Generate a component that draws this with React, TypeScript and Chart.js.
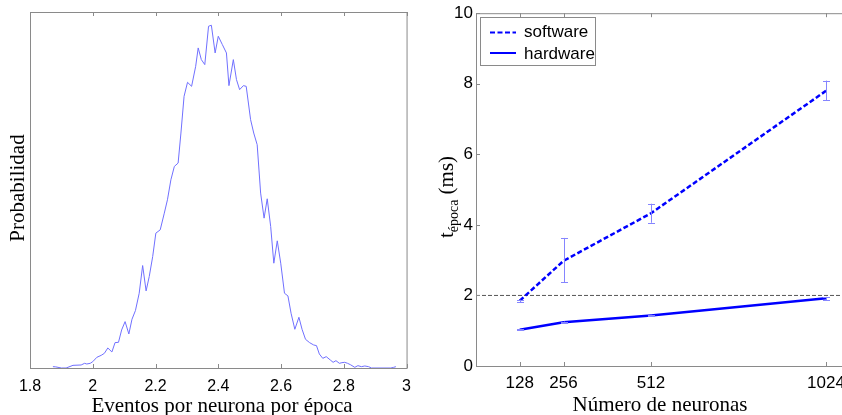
import React, { useEffect, useRef } from 'react';
import { Chart, registerables } from 'chart.js';

Chart.register(...registerables);

// ---------- Left panel: distribution of events per neuron per epoch ----------
const eventX = [
  1.873, 1.882, 1.900, 1.915, 1.937, 1.963, 1.974, 1.981, 1.992, 2.000,
  2.013, 2.027, 2.037, 2.048, 2.061, 2.071, 2.082, 2.092, 2.103, 2.115,
  2.125, 2.136, 2.148, 2.159, 2.170, 2.180, 2.191, 2.201, 2.215, 2.228,
  2.238, 2.249, 2.260, 2.272, 2.281, 2.291, 2.302, 2.315, 2.328, 2.336,
  2.346, 2.357, 2.369, 2.378, 2.390, 2.400, 2.413, 2.426, 2.434, 2.448,
  2.458, 2.468, 2.480, 2.489, 2.503, 2.513, 2.524, 2.535, 2.546, 2.556,
  2.567, 2.577, 2.588, 2.599, 2.611, 2.622, 2.632, 2.644, 2.657, 2.667,
  2.678, 2.691, 2.704, 2.713, 2.722, 2.733, 2.744, 2.757, 2.766, 2.775,
  2.786, 2.794, 2.803, 2.812, 2.821, 2.835, 2.845, 2.856, 2.867, 2.879,
  2.888, 2.950, 2.959, 2.966,
];
const eventProb = [
  0.00012, 0.0001, 0, 0, 0.00024, 0.00027, 0.00042, 0.00036, 0.00042, 0.00057,
  0.00096, 0.00114, 0.00132, 0.0018, 0.00144, 0.00228, 0.00231, 0.00342, 0.00417, 0.00306,
  0.00438, 0.00516, 0.00672, 0.00921, 0.00693, 0.00822, 0.01002, 0.01212, 0.01242, 0.01392,
  0.01512, 0.01692, 0.01812, 0.01842, 0.02112, 0.02442, 0.02568, 0.02532, 0.02712, 0.02877,
  0.02772, 0.02727, 0.03072, 0.03081, 0.02832, 0.02982, 0.02907, 0.02832, 0.02538, 0.02772,
  0.02592, 0.02502, 0.02538, 0.02532, 0.02232, 0.02112, 0.02007, 0.01572, 0.01347, 0.01521,
  0.01272, 0.00942, 0.01143, 0.00942, 0.00672, 0.00648, 0.00492, 0.00348, 0.00456, 0.00348,
  0.00258, 0.00228, 0.00207, 0.00201, 0.00126, 0.00087, 0.00102, 0.00072, 0.00051, 0.00066,
  0.00042, 0.00048, 0.00051, 0.00042, 0.0003, 0.00006, 0.00021, 0.00012, 0.00018, 0.00012,
  0, 0, 0.00006, 0.00012,
];
const leftXTicks = [1.8, 2, 2.2, 2.4, 2.6, 2.8, 3];

// ---------- Right panel: epoch time vs number of neurons ----------
const neurons = [128, 256, 512, 1024];
const softwareMs = [1.85, 2.98, 4.33, 7.8];
const softwareLow = [1.82, 2.38, 4.06, 7.53];
const softwareHigh = [1.88, 3.63, 4.6, 8.09];
const hardwareMs = [1.03, 1.24, 1.43, 1.92];
const hardwareLow = [1.02, 1.22, 1.41, 1.87];
const hardwareHigh = [1.04, 1.26, 1.45, 1.96];
const limitX = [0, 1100];
const limitMs = [2, 2];
const rightXTicks = [128, 256, 512, 1024];
const rightYTicks = [0, 2, 4, 6, 8, 10];

const SANS = "'Liberation Sans Narrow', 'Arial Narrow', 'Liberation Sans', sans-serif";
const SERIF = "'Liberation Serif', 'Times New Roman', serif";
const AXIS_GRAY = '#8a8a8a';

const leftDecor = {
  id: 'leftDecor',
  afterDraw(chart: any) {
    const { ctx, chartArea: a, scales } = chart;
    ctx.save();
    ctx.strokeStyle = AXIS_GRAY;
    ctx.lineWidth = 1;
    ctx.strokeRect(a.left + 0.5, a.top + 0.5, a.right - a.left, a.bottom - a.top);
    ctx.beginPath();
    for (const v of leftXTicks) {
      const px = Math.round(scales.x.getPixelForValue(v)) + 0.5;
      ctx.moveTo(px, a.bottom);
      ctx.lineTo(px, a.bottom - 4);
      ctx.moveTo(px, a.top);
      ctx.lineTo(px, a.top + 4);
    }
    ctx.stroke();
    ctx.fillStyle = '#000';
    ctx.font = `21px ${SERIF}`;
    ctx.textAlign = 'center';
    ctx.textBaseline = 'alphabetic';
    ctx.fillText('Eventos por neurona por época', 222, 412);
    ctx.translate(24, 188);
    ctx.rotate(-Math.PI / 2);
    ctx.fillText('Probabilidad', 0, 0);
    ctx.restore();
  },
};

const rightDecor = {
  id: 'rightDecor',
  afterDatasetsDraw(chart: any) {
    const { ctx, scales } = chart;
    const xs = scales.x;
    const ys = scales.y;
    const sets = [
      { low: softwareLow, high: softwareHigh },
      { low: hardwareLow, high: hardwareHigh },
    ];
    ctx.save();
    ctx.strokeStyle = '#8585ff';
    ctx.lineWidth = 1;
    ctx.beginPath();
    for (const s of sets) {
      neurons.forEach((n, i) => {
        const px = Math.round(xs.getPixelForValue(n)) + 0.5;
        const y1 = ys.getPixelForValue(s.low[i]);
        const y2 = ys.getPixelForValue(s.high[i]);
        ctx.moveTo(px, y1);
        ctx.lineTo(px, y2);
        ctx.moveTo(px - 3.5, Math.round(y1) + 0.5);
        ctx.lineTo(px + 3.5, Math.round(y1) + 0.5);
        ctx.moveTo(px - 3.5, Math.round(y2) + 0.5);
        ctx.lineTo(px + 3.5, Math.round(y2) + 0.5);
      });
    }
    ctx.stroke();
    ctx.restore();
  },
  afterDraw(chart: any) {
    const { ctx, chartArea: a, scales, width } = chart;
    ctx.save();
    ctx.strokeStyle = AXIS_GRAY;
    ctx.lineWidth = 1;
    ctx.beginPath();
    ctx.moveTo(a.left + 0.5, a.top + 0.5);
    ctx.lineTo(a.left + 0.5, a.bottom + 0.5);
    ctx.moveTo(a.left, a.top + 0.5);
    ctx.lineTo(width, a.top + 0.5);
    ctx.moveTo(a.left, a.bottom + 0.5);
    ctx.lineTo(width, a.bottom + 0.5);
    for (const v of rightXTicks) {
      const px = Math.round(scales.x.getPixelForValue(v)) + 0.5;
      ctx.moveTo(px, a.bottom);
      ctx.lineTo(px, a.bottom - 4);
      ctx.moveTo(px, a.top);
      ctx.lineTo(px, a.top + 4);
    }
    for (const v of rightYTicks) {
      const py = Math.round(scales.y.getPixelForValue(v)) + 0.5;
      ctx.moveTo(a.left, py);
      ctx.lineTo(a.left + 4, py);
    }
    ctx.stroke();

    // legend
    const lx = 60.5, ly = 17.5, lw = 115, lh = 48;
    ctx.fillStyle = '#fff';
    ctx.fillRect(lx, ly, lw, lh);
    ctx.strokeStyle = AXIS_GRAY;
    ctx.strokeRect(lx, ly, lw, lh);
    const ds = chart.data.datasets;
    const rows = [
      { d: ds[0], ly: 32.5, ty: 37 },
      { d: ds[1], ly: 53, ty: 59 },
    ];
    for (const r of rows) {
      ctx.strokeStyle = r.d.borderColor;
      ctx.lineWidth = 2;
      ctx.setLineDash(r.d.borderDash || []);
      ctx.beginPath();
      ctx.moveTo(70, r.ly);
      ctx.lineTo(96, r.ly);
      ctx.stroke();
      ctx.setLineDash([]);
      ctx.fillStyle = '#000';
      ctx.font = `17px ${SANS}`;
      ctx.textAlign = 'left';
      ctx.textBaseline = 'alphabetic';
      ctx.fillText(r.d.label, 104, r.ty);
    }

    // titles
    ctx.fillStyle = '#000';
    ctx.textBaseline = 'alphabetic';
    ctx.font = `21px ${SERIF}`;
    ctx.textAlign = 'center';
    ctx.fillText('Número de neuronas', 240, 411);

    ctx.translate(33, 197);
    ctx.rotate(-Math.PI / 2);
    ctx.textAlign = 'left';
    const big = `21px ${SERIF}`;
    const small = `14px ${SERIF}`;
    ctx.font = big;
    const wT = ctx.measureText('t').width;
    const wRest = ctx.measureText(' (ms)').width;
    ctx.font = small;
    const wSub = ctx.measureText('época').width;
    let px = -(wT + wSub + wRest) / 2;
    ctx.font = big;
    ctx.fillText('t', px, 0);
    px += wT;
    ctx.font = small;
    ctx.fillText('época', px, 5);
    px += wSub;
    ctx.font = big;
    ctx.fillText(' (ms)', px, 0);
    ctx.restore();
  },
};

export default function App() {
  const leftRef = useRef<HTMLCanvasElement>(null);
  const rightRef = useRef<HTMLCanvasElement>(null);

  useEffect(() => {
    const left = new Chart(leftRef.current as HTMLCanvasElement, {
      type: 'line',
      data: {
        datasets: [
          {
            label: 'Probabilidad',
            data: eventX.map((x, i) => ({ x, y: eventProb[i] })),
            borderColor: '#7070ff',
            borderWidth: 1,
            pointRadius: 0,
            tension: 0,
            fill: false,
          },
        ],
      },
      options: {
        responsive: false,
        animation: false,
        layout: { padding: { left: 30, right: 12, top: 12, bottom: 0 } },
        plugins: { legend: { display: false }, tooltip: { enabled: false } },
        scales: {
          x: {
            type: 'linear',
            min: 1.8,
            max: 3,
            afterBuildTicks: (s: any) => {
              s.ticks = leftXTicks.map((v) => ({ value: v }));
            },
            afterFit: (s: any) => {
              s.height = 47;
            },
            grid: { display: false, drawTicks: false },
            border: { display: false },
            ticks: {
              autoSkip: false,
              maxRotation: 0,
              padding: 9,
              color: '#000',
              font: { family: SANS, size: 16 },
              callback: (v: any) => String(v),
            },
          },
          y: {
            type: 'linear',
            min: 0,
            max: 0.032,
            display: false,
          },
        },
      },
      plugins: [leftDecor],
    });

    const right = new Chart(rightRef.current as HTMLCanvasElement, {
      type: 'line',
      data: {
        datasets: [
          {
            label: 'software',
            data: neurons.map((x, i) => ({ x, y: softwareMs[i] })),
            borderColor: '#0000ff',
            borderWidth: 2.5,
            borderDash: [5, 2.5],
            pointRadius: 0,
            tension: 0,
            fill: false,
          },
          {
            label: 'hardware',
            data: neurons.map((x, i) => ({ x, y: hardwareMs[i] })),
            borderColor: '#0000ff',
            borderWidth: 2.5,
            pointRadius: 0,
            tension: 0,
            fill: false,
          },
          {
            label: 'limit',
            data: limitX.map((x, i) => ({ x, y: limitMs[i] })),
            borderColor: '#555555',
            borderWidth: 1,
            borderDash: [4, 2],
            pointRadius: 0,
            fill: false,
          },
        ],
      },
      options: {
        responsive: false,
        animation: false,
        layout: { padding: { left: 0, right: 8, top: 12, bottom: 0 } },
        plugins: { legend: { display: false }, tooltip: { enabled: false } },
        scales: {
          x: {
            type: 'linear',
            min: 0,
            max: 1100,
            afterBuildTicks: (s: any) => {
              s.ticks = rightXTicks.map((v) => ({ value: v }));
            },
            afterFit: (s: any) => {
              s.height = 49;
            },
            grid: { display: false, drawTicks: false },
            border: { display: false },
            ticks: {
              autoSkip: false,
              maxRotation: 0,
              padding: 7,
              color: '#000',
              font: { family: SANS, size: 17 },
              callback: (v: any) => String(v),
            },
          },
          y: {
            type: 'linear',
            min: 0,
            max: 10,
            afterBuildTicks: (s: any) => {
              s.ticks = rightYTicks.map((v) => ({ value: v }));
            },
            afterFit: (s: any) => {
              s.width = 56;
            },
            grid: { display: false, drawTicks: false },
            border: { display: false },
            ticks: {
              autoSkip: false,
              padding: 3,
              color: '#000',
              font: { family: SANS, size: 17 },
              callback: (v: any) => String(v),
            },
          },
        },
      },
      plugins: [rightDecor],
    });

    return () => {
      left.destroy();
      right.destroy();
    };
  }, []);

  return (
    <div
      style={{
        position: 'fixed',
        left: 0,
        top: 0,
        width: 842,
        height: 415,
        overflow: 'hidden',
        background: '#fff',
      }}
    >
      <div style={{ position: 'absolute', left: 0, top: 0, width: 420, height: 415 }}>
        <canvas ref={leftRef} width={420} height={415} style={{ width: 420, height: 415 }} />
      </div>
      <div style={{ position: 'absolute', left: 420, top: 0, width: 440, height: 415 }}>
        <canvas ref={rightRef} width={440} height={415} style={{ width: 440, height: 415 }} />
      </div>
    </div>
  );
}
